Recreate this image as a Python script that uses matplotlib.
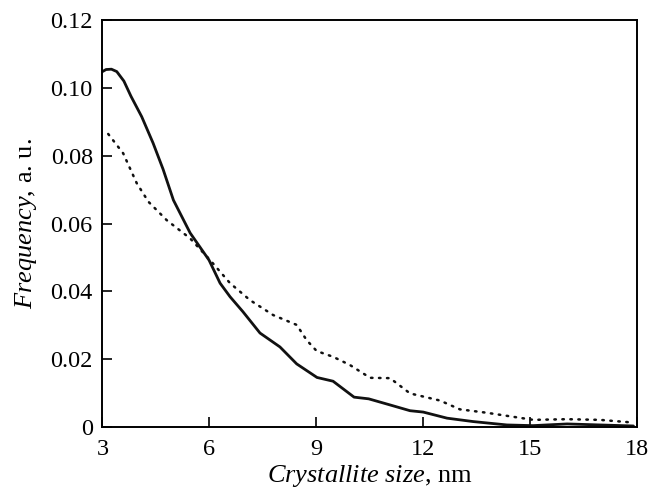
import matplotlib
matplotlib.use("Agg")
import matplotlib.pyplot as plt

plt.rcParams['font.family'] = ['Liberation Serif', 'DejaVu Serif']
plt.rcParams['mathtext.fontset'] = 'custom'
plt.rcParams['mathtext.it'] = 'Liberation Serif:italic'
plt.rcParams['mathtext.rm'] = 'Liberation Serif'

# solid curve
size_a = [3.0, 3.1, 3.25, 3.4, 3.6, 3.8, 4.1, 4.42, 4.7, 4.99, 5.46, 5.99, 6.30,
          6.58, 6.94, 7.42, 7.98, 8.45, 9.02, 9.47, 10.06, 10.47, 11.07, 11.63,
          12.0, 12.67, 13.40, 14.35, 15.08, 16.04, 16.96, 17.9]
freq_a = [0.1048, 0.1054, 0.1055, 0.1048, 0.1020, 0.0975, 0.0915, 0.0837, 0.0760,
          0.0669, 0.0572, 0.0492, 0.0424, 0.0384, 0.0340, 0.0277, 0.0236, 0.0186,
          0.0146, 0.0135, 0.0088, 0.0083, 0.0065, 0.0048, 0.0044, 0.0026, 0.0016,
          0.0006, 0.0004, 0.0009, 0.0006, 0.0003]

# dotted curve
size_b = [3.16, 3.58, 3.96, 4.29, 4.80, 5.46, 6.02, 6.58, 7.14, 7.79, 8.45, 8.73,
          9.01, 9.47, 9.94, 10.51, 11.07, 11.63, 12.47, 13.03, 13.78, 14.53, 15.09,
          16.03, 16.96, 17.9]
freq_b = [0.0864, 0.0807, 0.0719, 0.0664, 0.0610, 0.0556, 0.0492, 0.0424, 0.0374,
          0.0330, 0.0301, 0.0256, 0.0224, 0.0207, 0.0183, 0.0145, 0.0144, 0.0099,
          0.0078, 0.0052, 0.0042, 0.0030, 0.0021, 0.0023, 0.0021, 0.0013]

x_ticks = [3, 6, 9, 12, 15, 18]
y_ticks = [0, 0.02, 0.04, 0.06, 0.08, 0.10, 0.12]
y_tick_labels = ['0', '0.02', '0.04', '0.06', '0.08', '0.10', '0.12']

fig = plt.figure(figsize=(6.63, 4.93), dpi=100)
ax = fig.add_axes([0.1546, 0.1339, 0.8062, 0.8255])

ax.plot(size_a, freq_a, color='#111111', lw=2.0, solid_capstyle='round',
        solid_joinstyle='round')
ax.plot(size_b, freq_b, color='#111111', lw=1.8, linestyle=(0, (0.6, 2.6)),
        dash_capstyle='round')

ax.set_xlim(3, 18)
ax.set_ylim(0, 0.12)
ax.set_xticks(x_ticks)
ax.set_yticks(y_ticks)
ax.set_yticklabels(y_tick_labels)
ax.tick_params(direction='in', length=7, width=1.2, labelsize=17.5,
               top=False, right=False)
ax.tick_params(axis='y', pad=7)
ax.tick_params(axis='x', pad=9)
for s in ax.spines.values():
    s.set_linewidth(1.4)

ax.set_xlabel(r'$\it{Crystallite\ size}$, nm', fontsize=19, labelpad=2)
ax.set_ylabel(r'$\it{Frequency}$, a. u.', fontsize=19, labelpad=8)

fig.savefig('out.png', dpi=100)
